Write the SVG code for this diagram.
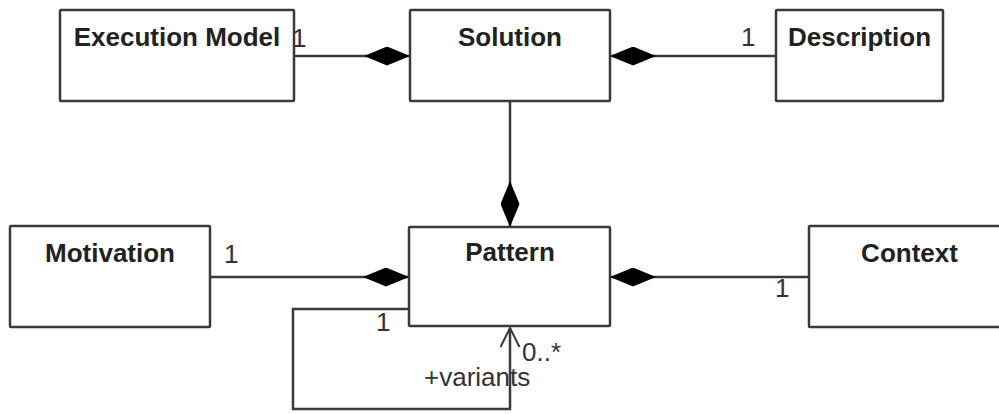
<svg xmlns="http://www.w3.org/2000/svg" width="999" height="414" viewBox="0 0 999 414">
<style>
.box{fill:#fff;stroke:#3a3a3a;stroke-width:2.5}
.title{font-family:"Liberation Sans",Arial,sans-serif;font-weight:bold;font-size:26px;fill:#222;text-anchor:middle}
.lbl{font-family:"Liberation Sans",Arial,sans-serif;font-size:26px;fill:#333}
.conn{fill:none;stroke:#3a3a3a;stroke-width:2.5}
</style>
<defs>
<marker id="diamond" markerUnits="userSpaceOnUse" viewBox="0 0 46 19" markerWidth="46" markerHeight="19" refX="0" refY="9.5" orient="auto">
<path d="M0,9.5 L23,0 L46,9.5 L23,19 Z" fill="#000"/>
</marker>
<marker id="open" markerUnits="userSpaceOnUse" viewBox="-22 -12 24 24" markerWidth="24" markerHeight="24" refX="0" refY="0" orient="auto">
<path d="M-19,-9.5 L0,0 L-19,9.5" fill="none" stroke="#3a3a3a" stroke-width="2"/>
</marker>
</defs>
<g id="connectors">
<path class="conn" d="M410,56 L294,56" marker-start="url(#diamond)"/>
<path class="conn" d="M610,56 L776,56" marker-start="url(#diamond)"/>
<path class="conn" d="M510,227 L510,101" marker-start="url(#diamond)"/>
<path class="conn" d="M409,277 L210,277" marker-start="url(#diamond)"/>
<path class="conn" d="M610,277 L809,277" marker-start="url(#diamond)"/>
<path class="conn" d="M409,309 L293,309 L293,409 L510,409 L510,328" marker-end="url(#open)"/>
<text class="lbl" x="292" y="47">1</text>
<text class="lbl" x="741" y="46">1</text>
<text class="lbl" x="224" y="263">1</text>
<text class="lbl" x="775" y="297">1</text>
<text class="lbl" x="376" y="331">1</text>
<text class="lbl" x="522" y="361">0..*</text>
<text class="lbl" x="424" y="386">+variants</text>
</g>
<g id="execution-model">
<rect class="box" x="60" y="10" width="234" height="91" rx="1"/>
<text class="title" x="177" y="46">Execution Model</text>
</g>
<g id="solution">
<rect class="box" x="410" y="10" width="200" height="91" rx="1"/>
<text class="title" x="510" y="46">Solution</text>
</g>
<g id="description">
<rect class="box" x="776" y="10" width="167" height="91" rx="1"/>
<text class="title" x="859.5" y="46">Description</text>
</g>
<g id="motivation">
<rect class="box" x="10" y="226" width="200" height="101" rx="1"/>
<text class="title" x="110" y="262">Motivation</text>
</g>
<g id="pattern">
<rect class="box" x="409" y="227" width="201" height="99" rx="1"/>
<text class="title" x="510" y="261">Pattern</text>
</g>
<g id="context">
<rect class="box" x="809" y="226" width="201" height="101" rx="1"/>
<text class="title" x="909.5" y="262">Context</text>
</g>
</svg>
